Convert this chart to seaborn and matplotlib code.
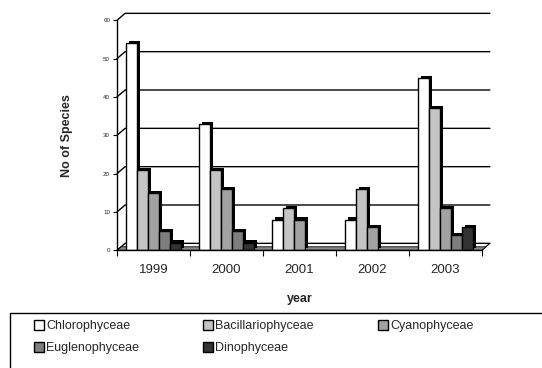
import matplotlib
matplotlib.use("Agg")
import matplotlib.pyplot as plt
import matplotlib.patheffects as pe
from matplotlib.patches import Rectangle, Polygon
import seaborn as sns
import pandas as pd

years = ["1999", "2000", "2001", "2002", "2003"]
groups = ["Chlorophyceae", "Bacillariophyceae", "Cyanophyceae",
          "Euglenophyceae", "Dinophyceae"]
chlorophyceae = [54, 33, 8, 8, 45]
bacillariophyceae = [21, 21, 11, 16, 37]
cyanophyceae = [15, 16, 8, 6, 11]
euglenophyceae = [5, 5, 0, 0, 4]
dinophyceae = [2, 2, 0, 0, 6]
y_ticks = [0, 10, 20, 30, 40, 50, 60]

series = [chlorophyceae, bacillariophyceae, cyanophyceae, euglenophyceae, dinophyceae]
rows = []
for g, vals in zip(groups, series):
    for y, v in zip(years, vals):
        rows.append({"year": y, "group": g, "species": v})
df = pd.DataFrame(rows)

colors = ["#ffffff", "#c4c4c4", "#a2a2a2", "#7e7e7e", "#333333"]

sns.set_style("white")
plt.rcParams["font.family"] = ["Liberation Sans", "DejaVu Sans"]

fig = plt.figure(figsize=(5.42, 3.68), dpi=100)
ax = fig.add_axes([0.216, 0.32, 0.673, 0.625])

sns.barplot(data=df, x="year", y="species", hue="group", hue_order=groups,
            palette=colors, width=0.76, edgecolor="black", linewidth=1.0,
            saturation=1, ax=ax, legend=True, zorder=3)

shadow = [pe.SimplePatchShadow(offset=(2.2, 1.6), shadow_rgbFace="black", alpha=1.0),
          pe.Normal()]
for p in ax.patches:
    p.set_path_effects(shadow)

ax.set_ylim(0, 60)
ax.set_xlim(-0.5, 4.5)
ax.set_yticks(y_ticks)
ax.set_yticklabels([str(t) for t in y_ticks], fontsize=4.5)
ax.tick_params(axis="y", length=3, width=0.8, color="black", pad=2, direction="out", left=True)
ax.tick_params(axis="x", labelsize=9.5, pad=10)
ax.set_xticks([i + 0.5 for i in range(-1, 5)], minor=True)
ax.tick_params(axis="x", which="major", length=0)
ax.tick_params(axis="x", which="minor", length=4, width=0.8, color="black", bottom=True)

# receding back wall: a short slanted step from each tick, then the gridline
dx, dy = 0.022, 1.8
wall = ax.get_yaxis_transform()
for t in y_ticks:
    ax.plot([0.0, dx, 1.022], [t, t + dy, t + dy], color="black", lw=1.0,
            transform=wall, clip_on=False, zorder=0.5)
ax.plot([1.0, 1.022], [0, dy], color="black", lw=0.8, transform=wall,
        clip_on=False, zorder=0.5)
# floor slab
ax.add_patch(Polygon([(0.0, 0.0), (1.0, 0.0), (1.012, 0.9), (0.012, 0.9)], closed=True,
                     facecolor="#8a8a8a", edgecolor="black", lw=0.6,
                     transform=wall, clip_on=False, zorder=1))

for s in ["top", "right"]:
    ax.spines[s].set_visible(False)
for s in ["left", "bottom"]:
    ax.spines[s].set_color("black")
    ax.spines[s].set_linewidth(1.0)
    ax.spines[s].set_zorder(4)

ax.set_xlabel("year", fontsize=9, fontweight="bold", labelpad=12)
ax.set_ylabel("No of Species", fontsize=9, fontweight="bold", labelpad=22)

handles, labels = ax.get_legend_handles_labels()
ax.legend_.remove()
order = [0, 3, 1, 4, 2]
leg = fig.legend([handles[i] for i in order], [labels[i] for i in order],
                 loc="upper left", bbox_to_anchor=(0.062, 0.130),
                 ncol=3, fontsize=9, frameon=False,
                 handlelength=0.8, handleheight=0.8, handletextpad=0.2,
                 columnspacing=5.1, borderpad=0, labelspacing=0.8, borderaxespad=0)
for h in leg.legend_handles:
    h.set_path_effects([])
fig.add_artist(Rectangle((0.0185, -0.1), 1.0, 0.2495, transform=fig.transFigure,
                         fill=False, edgecolor="black", lw=1.0))

fig.savefig("out.png", dpi=100)
